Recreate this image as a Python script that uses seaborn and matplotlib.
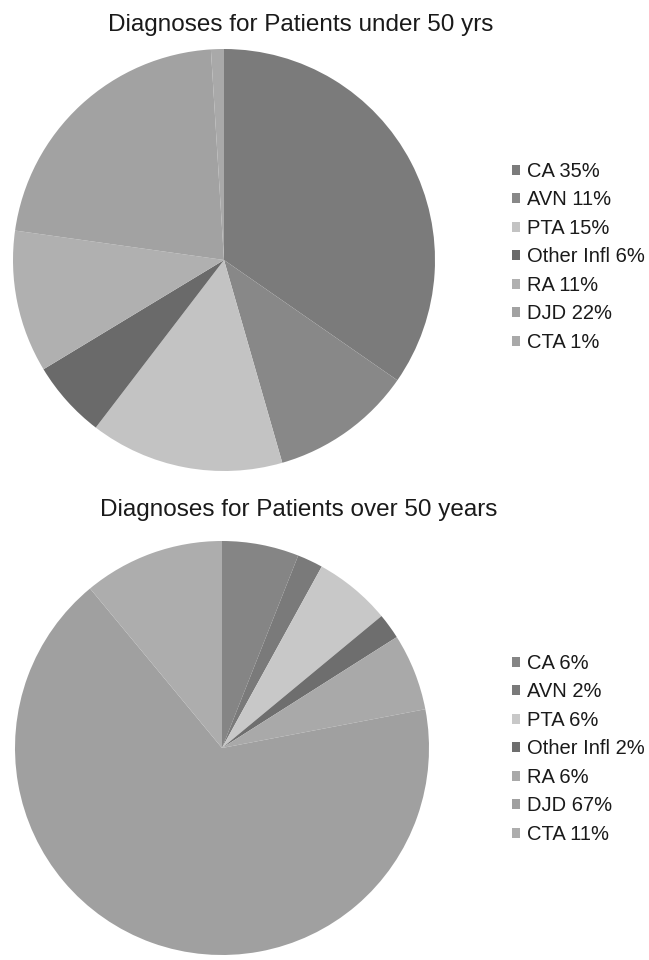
import matplotlib
matplotlib.use("Agg")
import matplotlib.pyplot as plt
import seaborn as sns

sns.set_theme(style="white")
plt.rcParams["font.family"] = ["Liberation Sans", "DejaVu Sans"]

# Diagnosis categories and their shares (percent)
categories = ["CA", "AVN", "PTA", "Other Infl", "RA", "DJD", "CTA"]
under_50 = [35, 11, 15, 6, 11, 22, 1]
over_50 = [6, 2, 6, 2, 6, 67, 11]

# Grayscale fills per category
colors_under = ["#7b7b7b", "#888888", "#c3c3c3", "#6a6a6a", "#b0b0b0", "#a2a2a2", "#a9a9a9"]
colors_over = ["#858585", "#7a7a7a", "#c8c8c8", "#6e6e6e", "#a9a9a9", "#a0a0a0", "#adadad"]

W, H = 649, 960
fig = plt.figure(figsize=(W / 100, H / 100), dpi=100)
fig.patch.set_facecolor("white")


def px_axes(cx, cy, r):
    return fig.add_axes([(cx - r) / W, 1 - (cy + r) / H, 2 * r / W, 2 * r / H])


def draw(ax, values, colors, title, title_xy, legend_xy):
    wedges, _ = ax.pie(values, colors=colors, startangle=90, counterclock=False,
                       wedgeprops=dict(linewidth=0))
    ax.set_xlim(-1, 1)
    ax.set_ylim(-1, 1)
    ax.set_aspect("equal")
    labels = [f"{c} {v}%" for c, v in zip(categories, values)]
    fig.legend(wedges, labels, loc="upper left",
               bbox_to_anchor=(legend_xy[0] / W, 1 - legend_xy[1] / H),
               frameon=False, fontsize=14.5, handlelength=0.4, handleheight=0.4,
               handletextpad=0.35, labelspacing=0.47, borderaxespad=0, borderpad=0,
               labelcolor="#1a1a1a")
    fig.text(title_xy[0] / W, 1 - title_xy[1] / H, title, ha="center", va="center",
             fontsize=17.5, color="#1a1a1a")


ax1 = px_axes(224, 260, 211)
draw(ax1, under_50, colors_under, "Diagnoses for Patients under 50 yrs",
     (301, 25), (512, 162))

ax2 = px_axes(222, 748, 207)
draw(ax2, over_50, colors_over, "Diagnoses for Patients over 50 years",
     (299, 510), (512, 654))

fig.savefig("out.png", dpi=100, facecolor="white")
